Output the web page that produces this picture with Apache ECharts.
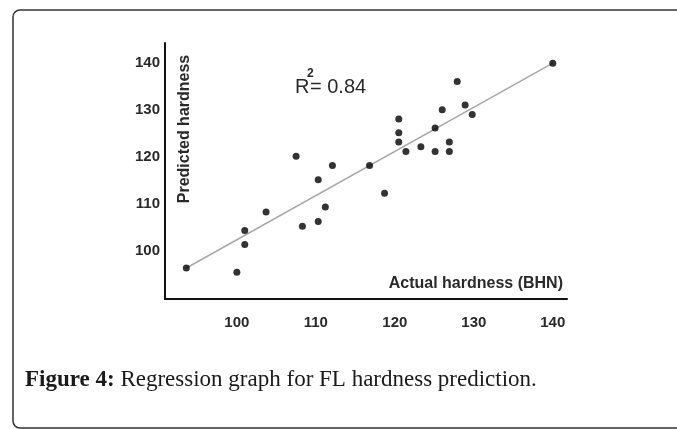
<!DOCTYPE html>
<html>
<head>
<meta charset="utf-8">
<script src="https://cdn.jsdelivr.net/npm/echarts@6/dist/echarts.min.js"></script>
<style>
  html, body { margin: 0; padding: 0; background: #fff; }
  #chart { width: 677px; height: 429px; }
</style>
</head>
<body>
<div id="chart"></div>
<script>
// actual hardness (BHN) vs predicted hardness
var actual = [93.6, 100, 101, 101, 103.7, 107.5, 108.3, 110.3, 110.3, 111.2, 112.1, 116.8, 118.7,
  120.5, 120.5, 120.5, 121.4, 123.3, 125.1, 125.1, 126, 126.9, 126.9, 127.9, 128.9, 129.8, 140]
var predicted = [96.4, 95.5, 104.4, 101.4, 108.3, 120.2, 105.3, 106.3, 115.2, 109.4, 118.2, 118.2, 112.3,
  128.1, 125.2, 123.2, 121.2, 122.2, 121.2, 126.2, 130.1, 123.2, 121.2, 136.1, 131.1, 129.1, 140]
// trend line end points
var trendX = [93.6, 140]
var trendY = [96.4, 140]
var xTicks = [100, 110, 120, 130, 140]
var yTicks = [100, 110, 120, 130, 140]

var points = actual.map(function (a, i) { return [a, predicted[i]] })
var trend = trendX.map(function (a, i) { return [a, trendY[i]] })

var mychart = echarts.init(document.getElementById('chart'))
var labelFont = 'Liberation Sans'
var option = {
  animation: false,
  grid: { left: 165, right: 110, top: 43, bottom: 130 },
  xAxis: {
    type: 'value',
    min: 90.9,
    max: 141.8,
    splitLine: { show: false },
    axisTick: { show: false },
    axisLine: { show: true, lineStyle: { color: '#111', width: 2 } },
    axisLabel: {
      customValues: xTicks,
      color: '#2a2a2a',
      fontSize: 15,
      fontWeight: 'bold',
      fontFamily: labelFont,
      margin: 16
    }
  },
  yAxis: {
    type: 'value',
    min: 89.8,
    max: 144.3,
    splitLine: { show: false },
    axisTick: { show: false },
    axisLine: { show: true, lineStyle: { color: '#111', width: 2 } },
    axisLabel: {
      customValues: yTicks,
      color: '#2a2a2a',
      fontSize: 15,
      fontWeight: 'bold',
      fontFamily: labelFont,
      margin: 5
    }
  },
  series: [
    {
      type: 'line',
      data: trend,
      symbol: 'none',
      silent: true,
      lineStyle: { color: '#a8a8a8', width: 1.5 },
      z: 1
    },
    {
      type: 'scatter',
      data: points,
      symbol: 'circle',
      symbolSize: 7,
      itemStyle: { color: '#000' },
      z: 2
    }
  ],
  graphic: [
    {
      type: 'rect',
      shape: { x: 13, y: 10, width: 720, height: 418, r: 7 },
      style: { fill: 'none', stroke: '#333', lineWidth: 1.5 },
      z: -1
    },
    {
      type: 'text',
      x: 185,
      y: 129,
      rotation: Math.PI / 2,
      style: {
        text: 'Predicted hardness',
        fill: '#2a2a2a',
        font: 'bold 16px ' + labelFont,
        align: 'center',
        verticalAlign: 'middle'
      }
    },
    {
      type: 'text',
      x: 563,
      y: 284,
      style: {
        text: 'Actual hardness (BHN)',
        fill: '#2a2a2a',
        font: 'bold 16px ' + labelFont,
        align: 'right',
        verticalAlign: 'middle'
      }
    },
    {
      type: 'text',
      x: 295,
      y: 87,
      style: { text: 'R', fill: '#2a2a2a', font: '20px ' + labelFont, verticalAlign: 'middle' }
    },
    {
      type: 'text',
      x: 307,
      y: 74,
      style: { text: '2', fill: '#2a2a2a', font: 'bold 12px ' + labelFont, verticalAlign: 'middle' }
    },
    {
      type: 'text',
      x: 310,
      y: 87,
      style: { text: '= 0.84', fill: '#2a2a2a', font: '20px ' + labelFont, verticalAlign: 'middle' }
    },
    {
      type: 'text',
      x: 25,
      y: 380,
      style: {
        rich: {
          b: { font: 'bold 23px "Liberation Serif"', fill: '#1a1a1a' },
          n: { font: '23px "Liberation Serif"', fill: '#1a1a1a' }
        },
        text: '{b|Figure 4:}{n| Regression graph for FL hardness prediction.}',
        verticalAlign: 'middle'
      }
    }
  ]
}
mychart.setOption(option)
</script>
</body>
</html>
